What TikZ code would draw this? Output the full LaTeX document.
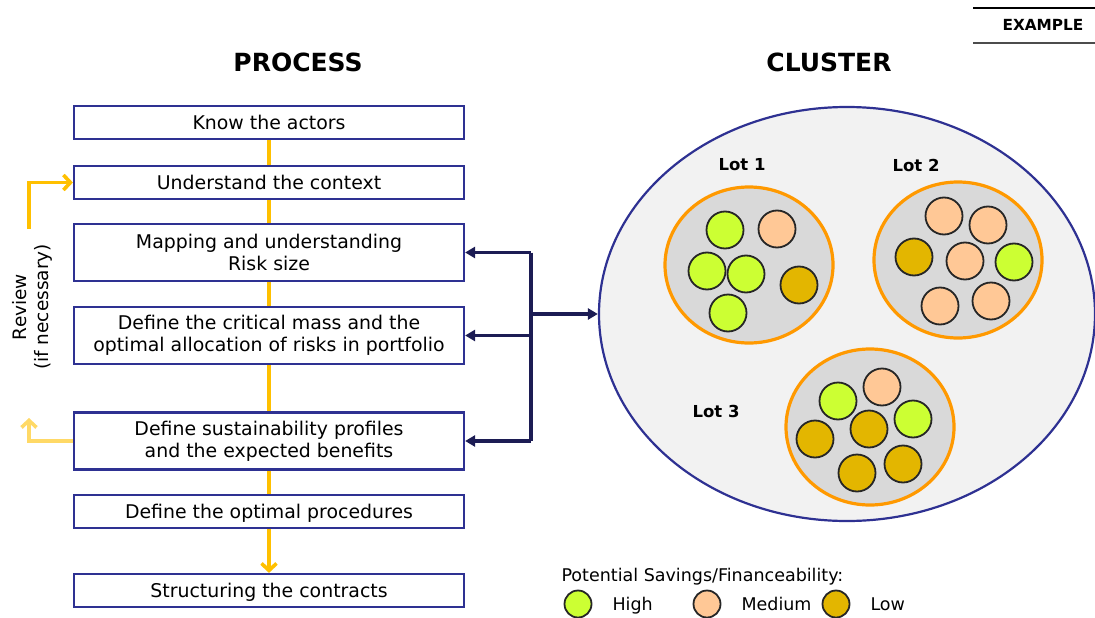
\documentclass[tikz,border=0pt]{standalone}
\usepackage{fontspec}
\setmainfont{DejaVu Sans}
\usepackage{xcolor}
\usetikzlibrary{positioning,calc,shapes.geometric,arrows.meta}
\definecolor{boxblue}{HTML}{2E3192}
\definecolor{navy}{HTML}{1C1C54}
\definecolor{gold}{HTML}{FFC000}
\definecolor{palegold}{HTML}{FFD966}
\definecolor{lotorange}{HTML}{FF9900}
\definecolor{lotgrey}{HTML}{D9D9D9}
\definecolor{clustergrey}{HTML}{F2F2F2}
\definecolor{highc}{HTML}{CCFF33}
\definecolor{medc}{HTML}{FFC896}
\definecolor{lowc}{HTML}{E3B600}

\begin{document}
\begin{tikzpicture}[
    x=1pt, y=-1pt,
    procbox/.style={draw=boxblue, line width=2.2pt, fill=white, minimum width=390pt,
        inner sep=0pt, align=center, font=\fontsize{18.9}{22}\selectfont},
    single/.style={procbox, minimum height=33pt, text height=14pt, text depth=1pt},
    double/.style={procbox, minimum height=57pt},
    title/.style={font=\fontsize{25}{29}\selectfont\bfseries},
    lotlabel/.style={font=\fontsize{16.5}{20}\selectfont\bfseries},
    lot/.style={shape=ellipse, draw=lotorange, fill=lotgrey, line width=3.2pt,
        inner sep=0pt, minimum width=168pt, minimum height=156pt},
    chip/.style={shape=circle, draw=black!85, line width=1.8pt, inner sep=0pt, minimum size=37pt},
    keychip/.style={chip, minimum size=27pt},
    keytext/.style={font=\fontsize{17.5}{21}\selectfont, anchor=base west},
    goldline/.style={draw=gold, line width=3.6pt},
    goldedge/.style={goldline, -{Straight Barb[length=7pt,width=15pt]}},
    paleedge/.style={draw=palegold, line width=3.6pt, -{Straight Barb[length=7pt,width=15pt]}},
    navyline/.style={draw=navy, line width=3.6pt},
    navyedge/.style={navyline, -{Triangle[length=10pt,width=11pt]}}
]
    \useasboundingbox (0,0) rectangle (1095,618);

    % Tag
    \node[font=\fontsize{15.3}{18}\selectfont\bfseries] (tag) at (1043,25) {EXAMPLE};
    \draw[line width=1.6pt] (973,8) -- (1095,8);
    \draw[line width=1.6pt, black!70] (973,43) -- (1095,43);

    % Titles
    \node[title] (process) at (298,62) {PROCESS};
    \node[title] (clusterT) at (829,62) {CLUSTER};

    % Process steps
    \node[single] (actors) at (269,122.5) {Know the actors};
    \node[single] (context) at (269,182.5) {Understand the context};
    \node[double] (mapping) at (269,252.5) {Mapping and understanding\\Risk size};
    \node[double] (critical) at (269,335.5) {Define the critical mass and the\\optimal allocation of risks in portfolio};
    \node[double] (sustain) at (269,441) {Define sustainability profiles\\and the expected benefits};
    \node[single] (procedures) at (269,511.5) {Define the optimal procedures};
    \node[single] (contracts) at (269,590.5) {Structuring the contracts};

    % Flow
    \foreach \a/\b in {actors/context, context/mapping, mapping/critical, critical/sustain, sustain/procedures}
        \draw[goldline] (\a.south) -- (\b.north);
    \draw[goldedge] (procedures.south) -- (contracts.north);

    % Review loop
    \coordinate (revTop) at (29,229);
    \coordinate (revBot) at (29,418);
    \draw[goldedge] (revTop) |- (context.west);
    \draw[paleedge] (sustain.west) -| (revBot);
    \node[rotate=90, align=center, font=\fontsize{18.5}{22}\selectfont] (review) at (32,307) {Review\\(if necessary)};

    % Cluster
    \node[shape=ellipse, draw=boxblue, fill=clustergrey, line width=2.2pt, inner sep=0pt,
        minimum width=496pt, minimum height=414pt] (cluster) at (847,314) {};
    \node[lot] (lot1) at (749,265) {};
    \node[lot] (lot2) at (958,260) {};
    \node[lot] (lot3) at (870,427) {};
    \node[lotlabel] (lot1T) at (742,165) {Lot 1};
    \node[lotlabel] (lot2T) at (916,165) {Lot 2};
    \node[lotlabel] (lot3T) at (716,411) {Lot 3};

    % Risks in each lot
    \foreach \px/\py/\c [count=\i] in {725/230/highc, 777/229/medc, 707/271/highc, 746/274/highc,
        799/285/lowc, 728/313/highc,
        944/216/medc, 988/225/medc, 914/257/lowc, 965/261/medc, 1014/262/highc, 940/306/medc, 991/301/medc,
        882/387/medc, 838/401/highc, 913/419/highc, 869/429/lowc, 815/439/lowc, 903/464/lowc, 857/473/lowc}
        \node[chip, fill=\c] (risk\i) at (\px,\py) {};

    % Links to the cluster
    \coordinate (hub) at (531,314);
    \draw[navyline] (hub |- mapping.east) -- (hub |- sustain.east);
    \draw[navyedge] (hub |- mapping.east) -- (mapping.east);
    \draw[navyedge] (hub |- critical.east) -- (critical.east);
    \draw[navyedge] (hub |- sustain.east) -- (sustain.east);
    \draw[navyedge] (hub) -- (cluster.west);

    % Legend
    \node[keytext] (legendT) at (558,581) {Potential Savings/Financeability:};
    \node[keychip, fill=highc] (keyHigh) at (578,604) {};
    \node[keytext] (highT) at (609,610) {High};
    \node[keychip, fill=medc] (keyMed) at (707,604) {};
    \node[keytext] (medT) at (738,610) {Medium};
    \node[keychip, fill=lowc] (keyLow) at (836,604) {};
    \node[keytext] (lowT) at (867,610) {Low};
\end{tikzpicture}
\end{document}
